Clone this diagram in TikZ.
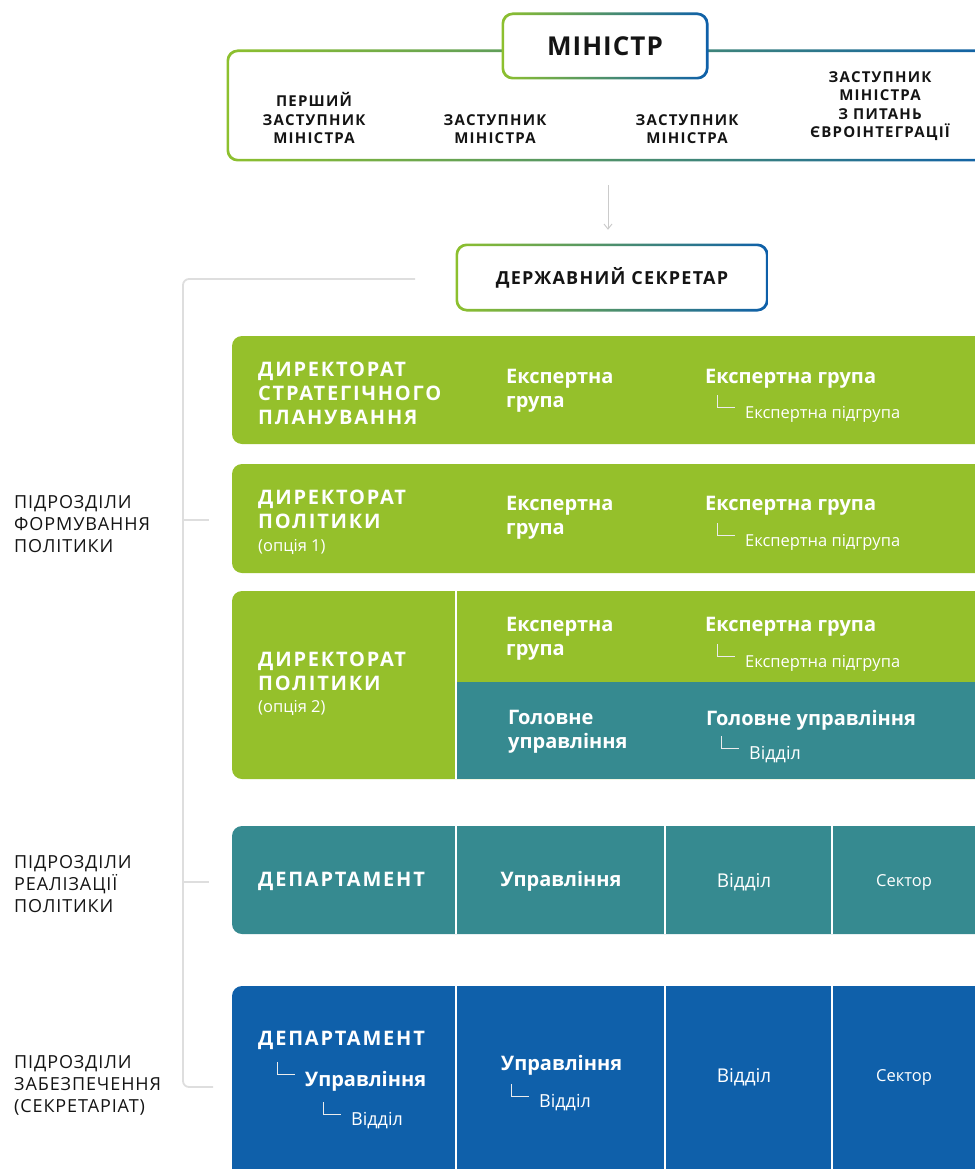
\documentclass[tikz,border=0pt]{standalone}
\usepackage{fontspec}
\setmainfont{Open Sans}
\usetikzlibrary{
		arrows.meta,
		calc,
		positioning
	}
\definecolor{mingreen}{RGB}{141,192,46}
\definecolor{minblue}{RGB}{13,95,170}
\definecolor{dirgreen}{RGB}{149,192,43}
\definecolor{depteal}{RGB}{54,138,144}
\definecolor{secblue}{RGB}{15,96,170}
\definecolor{bracegray}{RGB}{222,222,222}
\definecolor{inkblack}{RGB}{20,20,20}
\tikzset{
		>=stealth,
		toplabel/.style={font=\bfseries\fontsize{15}{18.5}\selectfont\addfontfeatures{LetterSpace=8}, align=center, text=inkblack, inner sep=0},
		dirhead/.style={anchor=west, align=left, text=white, font=\bfseries\fontsize{20}{24}\selectfont, inner sep=0},
		capshead/.style={dirhead, font=\bfseries\fontsize{20}{24}\selectfont\addfontfeatures{LetterSpace=9}},
		subtext/.style={anchor=west, text=white, font=\fontsize{16.5}{19}\selectfont, inner sep=0},
		celltext/.style={text=white, font=\fontsize{19}{22}\selectfont, inner sep=0},
		sidelabel/.style={anchor=west, align=left, text=inkblack, font=\fontsize{18}{22}\selectfont\addfontfeatures{LetterSpace=5}, inner sep=0},
		subline/.style={white!85!gray, line width=0.8pt},
		divider/.style={white, line width=2.5pt},
		bracket/.style={bracegray, line width=1.8pt, rounded corners=6},
		gradbox/.style={fill=white, rounded corners=10, inner sep=0}
	}
% ring with a green to blue gradient round a node
\newcommand{\gradframe}[1]{%
  \shade[left color=mingreen, right color=minblue, even odd rule, rounded corners=11]
    ($(#1.south west)+(-1.3,1.3)$) rectangle ($(#1.north east)+(1.3,-1.3)$)
    [rounded corners=9] ($(#1.south west)+(1.3,-1.3)$) rectangle ($(#1.north east)+(-1.3,1.3)$);}
% small L-shaped mark in front of a sub item
\newcommand{\branch}[1]{%
  \draw[subline] ($(#1.west)+(-28,-19)$) |- ($(#1.west)+(-10,-7)$);}

\begin{document}
\begin{tikzpicture}[x=1pt, y=-1pt]
          \useasboundingbox (0,0) rectangle (974,1169);

          % minister and deputies
          \node (deps) [minimum width=782, minimum height=109, inner sep=0] at (619,105.5) {};
          \gradframe{deps}
          \node (min) [gradbox, minimum width=204, minimum height=64, font=\bfseries\fontsize{26}{30}\selectfont\addfontfeatures{LetterSpace=4}, text=inkblack] at (605,46) {МІНІСТР};
          \gradframe{min}

          \node (dep1st) [toplabel] at (314,118) {ПЕРШИЙ\\ЗАСТУПНИК\\МІНІСТРА};
          \node (depA) [toplabel] at (495,129) {ЗАСТУПНИК\\МІНІСТРА};
          \node (depB) [toplabel] at (687,129) {ЗАСТУПНИК\\МІНІСТРА};
          \node (depEU) [toplabel] at (880,106) {ЗАСТУПНИК\\МІНІСТРА\\З ПИТАНЬ\\ЄВРОІНТЕГРАЦІЇ};

          % state secretary
          \node (sec) [gradbox, minimum width=310, minimum height=65, font=\bfseries\fontsize{18}{20}\selectfont\addfontfeatures{LetterSpace=7}, text=inkblack] at (612,277.5) {ДЕРЖАВНИЙ СЕКРЕТАР};
          \gradframe{sec}
          \draw[bracegray!80!gray, line width=1pt, -{Straight Barb[length=5pt,width=8pt]}, shorten <=25pt, shorten >=15pt] ([xshift=-4pt]deps.south -| sec.north) -- ([xshift=-4pt]sec.north);

          % brace on the left
          \coordinate (braceTop) at (415,279);
          \coordinate (braceBot) at (213,1087);
          \draw[bracket] (braceTop) -- (183,279) -- (183,1087) -- (braceBot);
          \draw[bracket] (183,520) -- (209,520);
          \draw[bracket] (183,882) -- (209,882);

          \node (formLbl) [sidelabel] at (14,524) {ПІДРОЗДІЛИ\\ФОРМУВАННЯ\\ПОЛІТИКИ};
          \node (implLbl) [sidelabel] at (14,884) {ПІДРОЗДІЛИ\\РЕАЛІЗАЦІЇ\\ПОЛІТИКИ};
          \node (supLbl) [sidelabel] at (14,1085) {ПІДРОЗДІЛИ\\ЗАБЕЗПЕЧЕННЯ\\(СЕКРЕТАРІАТ)};

          % row 1
          \fill[dirgreen, rounded corners=10] (232,336) rectangle (1010,444);
          \node (dirPlan) [capshead] at (258,393) {ДИРЕКТОРАТ\\СТРАТЕГІЧНОГО\\ПЛАНУВАННЯ};
          \node (grpA1) [dirhead] at (506,391) {Експертна\\група};
          \node (grpB1) [dirhead] at (705,379) {Експертна група};
          \node (subB1) [subtext] at (745,414) {Експертна підгрупа};
          \branch{subB1}

          % row 2
          \fill[dirgreen, rounded corners=10] (232,464) rectangle (1010,573);
          \node (dirPol1) [capshead] at (258,509) {ДИРЕКТОРАТ\\ПОЛІТИКИ};
          \node (opt1) [subtext] at (258,547) {(опція 1)};
          \node (grpA2) [dirhead] at (506,518) {Експертна\\група};
          \node (grpB2) [dirhead] at (705,506) {Експертна група};
          \node (subB2) [subtext] at (745,542) {Експертна підгрупа};
          \branch{subB2}

          % row 3
          \fill[dirgreen, rounded corners=10] (232,591) rectangle (1010,779);
          \fill[depteal] (456,682) rectangle (1010,779);
          \draw[divider] (456,591) -- (456,779);
          \node (dirPol2) [capshead] at (258,671) {ДИРЕКТОРАТ\\ПОЛІТИКИ};
          \node (opt2) [subtext] at (258,708) {(опція 2)};
          \node (grpA3) [dirhead] at (506,639) {Експертна\\група};
          \node (grpB3) [dirhead] at (705,627) {Експертна група};
          \node (subB3) [subtext] at (745,663) {Експертна підгрупа};
          \branch{subB3}
          \node (mainA) [dirhead] at (508,732) {Головне\\управління};
          \node (mainB) [dirhead] at (706,720) {Головне управління};
          \node (unitB) [subtext, font=\fontsize{18}{22}\selectfont] at (749,755) {Відділ};
          \branch{unitB}

          % implementation row
          \fill[depteal, rounded corners=10] (232,826) rectangle (1010,934);
          \foreach \xd in {456,665,832}
            \draw[divider] (\xd,826) -- (\xd,934);
          \node (deptI) [capshead] at (258,881) {ДЕПАРТАМЕНТ};
          \node (mgmtI) [celltext, font=\bfseries\fontsize{20}{24}\selectfont] at (561,881) {Управління};
          \node (unitI) [celltext] at (744,882) {Відділ};
          \node (sectI) [celltext, font=\fontsize{16.5}{18}\selectfont] at (904,882) {Сектор};

          % secretariat row
          \fill[secblue, rounded corners=10] (232,986) rectangle (1010,1190);
          \foreach \xd in {456,665,832}
            \draw[divider] (\xd,986) -- (\xd,1169);
          \node (deptS) [capshead] at (258,1040) {ДЕПАРТАМЕНТ};
          \node (mgmtS) [dirhead] at (305,1081) {Управління};
          \branch{mgmtS}
          \node (unitS) [subtext, font=\fontsize{18}{22}\selectfont] at (351,1121) {Відділ};
          \branch{unitS}
          \node (mgmtS2) [dirhead] at (501,1065) {Управління};
          \node (unitS2) [subtext, font=\fontsize{18}{22}\selectfont] at (539,1103) {Відділ};
          \branch{unitS2}
          \node (unitS3) [celltext] at (744,1077) {Відділ};
          \node (sectS) [celltext, font=\fontsize{16.5}{18}\selectfont] at (904,1077) {Сектор};

          \end{tikzpicture}
\end{document}
